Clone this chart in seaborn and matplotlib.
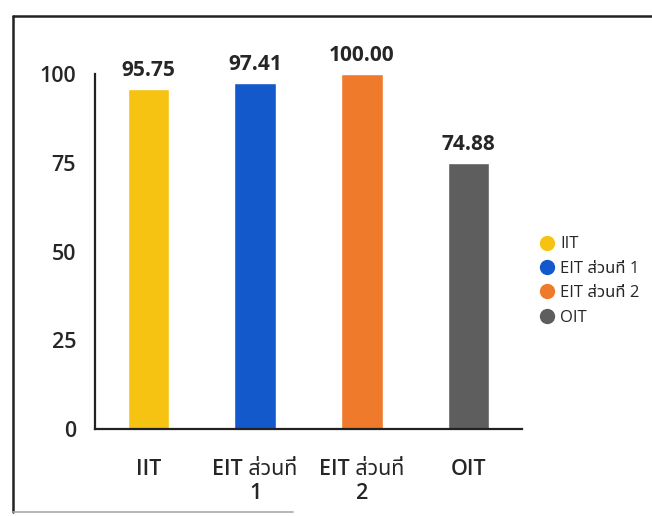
import matplotlib
matplotlib.use("Agg")
import matplotlib.pyplot as plt
import matplotlib.font_manager as fm
from matplotlib.lines import Line2D
import pandas as pd
import seaborn as sns

# data
categories = ["IIT", "EIT ส่วนที่\n1", "EIT ส่วนที่\n2", "OIT"]
legend_labels = ["IIT", "EIT ส่วนที่ 1", "EIT ส่วนที่ 2", "OIT"]
scores = [95.75, 97.41, 100.00, 74.88]
colors = ["#F7C312", "#1459CC", "#F07A2C", "#5E5E5E"]
y_ticks = [0, 25, 50, 75, 100]

# pick an installed Thai font for the fallback
names = {f.name for f in fm.fontManager.ttflist}
thai = [n for n in ["Noto Sans Thai", "IBM Plex Sans Thai", "Anuphan"] if n in names][:1]

sns.set_style("white")
plt.rcParams["font.family"] = ["Open Sans"] + thai + ["DejaVu Sans"]

df = pd.DataFrame({"cat": categories, "score": scores})

fig = plt.figure(figsize=(6.52, 5.16), dpi=100)
ax = fig.add_axes([95 / 652, 1 - 429 / 516, 427 / 652, 355 / 516])
sns.barplot(data=df, x="cat", y="score", hue="cat", palette=colors,
            width=0.39, legend=False, ax=ax, saturation=1)

ax.set_ylim(0, 100)
ax.set_xlim(-0.5, 3.5)
ax.set_yticks(y_ticks)
ax.set_yticklabels([str(t) for t in y_ticks], fontsize=15.5, fontweight="semibold")
ax.tick_params(axis="x", labelsize=15.5, pad=18)
for lab in ax.get_xticklabels():
    lab.set_fontweight("semibold")
    lab.set_linespacing(1.2)
ax.tick_params(axis="y", pad=10)
ax.set_xlabel("")
ax.set_ylabel("")
sns.despine(ax=ax)
for side in ["left", "bottom"]:
    ax.spines[side].set_color("#222222")
    ax.spines[side].set_linewidth(1.6)

for i, v in enumerate(scores):
    ax.annotate(f"{v:.2f}", (i, v), xytext=(0, 6), textcoords="offset points",
                ha="center", va="bottom", fontsize=15, fontweight="bold")

handles = [Line2D([], [], marker="o", linestyle="", markersize=10,
                  markerfacecolor=c, markeredgecolor=c) for c in colors]
fig.legend(handles, legend_labels, loc="center left",
           bbox_to_anchor=(540 / 652, 1 - 281 / 516), frameon=False,
           fontsize=12, handlelength=0.8, handletextpad=0.4,
           labelspacing=0.5, borderpad=0, borderaxespad=0)

# outer frame of the printed chart
fig.add_artist(Line2D([13 / 652, 1], [1 - 16 / 516] * 2, color="#222222", lw=1.8))
fig.add_artist(Line2D([13 / 652] * 2, [1 - 16 / 516, 1 - 512 / 516], color="#222222", lw=1.8))
fig.add_artist(Line2D([13 / 652, 0.45], [1 - 512 / 516] * 2, color="#aaaaaa", lw=1.2))

fig.savefig("out.png", dpi=100)
